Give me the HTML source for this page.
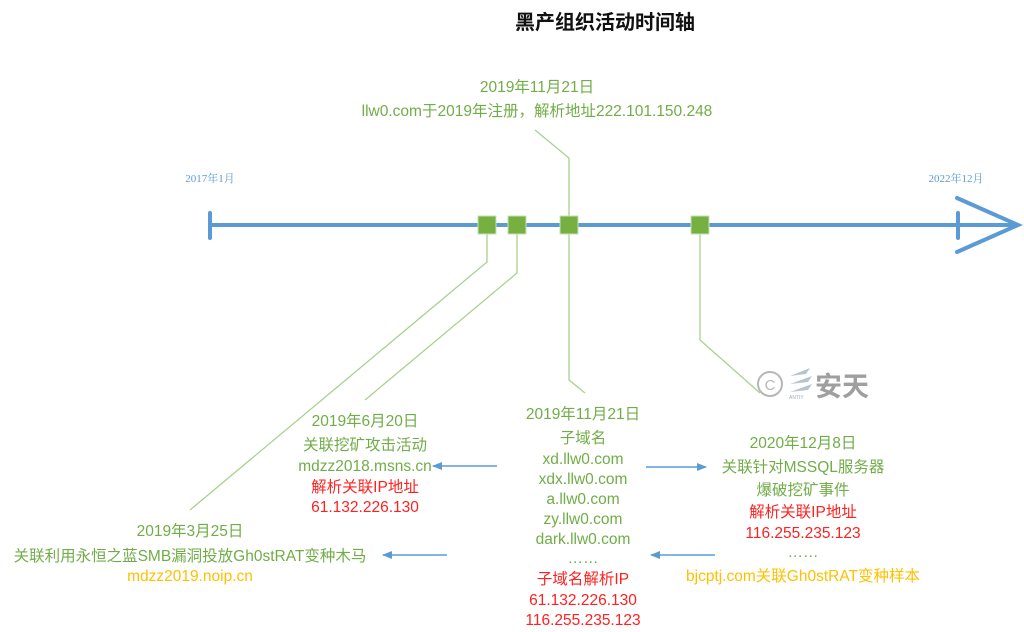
<!DOCTYPE html>
<html><head><meta charset="utf-8"><style>
html,body{margin:0;padding:0;background:#fff;}
svg{display:block;}
text{font-family:"Liberation Sans","Noto Sans CJK SC",sans-serif;}
.g{fill:#70ad47;font-size:15.5px;}
.r{fill:#ff2020;font-size:15.5px;}
.y{fill:#ffc000;font-size:15.5px;}
.b{fill:#5b9bd5;font-size:11px;font-family:"Liberation Serif","Noto Serif CJK SC",serif;}
</style></head><body>
<svg width="1024" height="632" viewBox="0 0 1024 632" xmlns="http://www.w3.org/2000/svg">
<defs>
<marker id="ah" markerWidth="10" markerHeight="8" refX="9" refY="4" orient="auto" markerUnits="userSpaceOnUse">
<path d="M0,0 L10,4 L0,8 Z" fill="#5b9bd5"/></marker>
</defs>
<text x="605" y="29" text-anchor="middle" font-size="20" font-weight="bold" fill="#111">黑产组织活动时间轴</text>

<text class="g" x="537" y="92" text-anchor="middle">2019年11月21日</text>
<text class="g" x="537" y="116" text-anchor="middle">llw0.com于2019年注册，解析地址222.101.150.248</text>

<text class="b" x="210" y="182" text-anchor="middle">2017年1月</text>
<text class="b" x="956" y="182" text-anchor="middle">2022年12月</text>

<g stroke="#a9d18e" stroke-width="1.3" fill="none">
<polyline points="535,130 569,158 569,380 585,393"/>
<polyline points="487,234 487,262 190,510"/>
<polyline points="517,234 517,273 365,400"/>
<polyline points="700,234 700,340 760,393"/>
</g>

<g stroke="#5b9bd5" stroke-width="4" fill="none" stroke-linecap="round">
<line x1="210" y1="225" x2="1016" y2="225"/>
<line x1="210" y1="213" x2="210" y2="238"/>
<line x1="958" y1="213" x2="958" y2="238"/>
<polyline points="957,198 1018,225 957,252"/>
</g>
<g fill="#76b041" stroke="#c5e0b4" stroke-width="1">
<rect x="478" y="216" width="18" height="18"/>
<rect x="508" y="216" width="18" height="18"/>
<rect x="560" y="216" width="18" height="18"/>
<rect x="691" y="216" width="18" height="18"/>
</g>

<g opacity="0.7">
<circle cx="770" cy="384" r="12" fill="none" stroke="#999" stroke-width="2"/>
<text x="770" y="390" text-anchor="middle" font-size="15" fill="#999">C</text>
<path d="M790,376 L810,368 L806,374 Z M790,384 L812,376 L808,382 Z M790,392 L812,384 L808,390 Z" fill="#9ab"/>
<text x="789" y="399" font-size="5" fill="#888">ANTIY</text>
<text x="815" y="396" font-size="27" font-weight="bold" fill="#777">安天</text>
</g>

<g text-anchor="middle">
<text class="g" x="583" y="419">2019年11月21日</text>
<text class="g" x="583" y="443">子域名</text>
<text class="g" x="583" y="464">xd.llw0.com</text>
<text class="g" x="583" y="484">xdx.llw0.com</text>
<text class="g" x="583" y="504">a.llw0.com</text>
<text class="g" x="583" y="524">zy.llw0.com</text>
<text class="g" x="583" y="544">dark.llw0.com</text>
<text class="g" x="583" y="563">……</text>
<text class="r" x="583" y="584">子域名解析IP</text>
<text class="r" x="583" y="605">61.132.226.130</text>
<text class="r" x="583" y="625">116.255.235.123</text>

<text class="g" x="803" y="448">2020年12月8日</text>
<text class="g" x="803" y="472">关联针对MSSQL服务器</text>
<text class="g" x="803" y="495">爆破挖矿事件</text>
<text class="r" x="803" y="517">解析关联IP地址</text>
<text class="r" x="803" y="538">116.255.235.123</text>
<text class="g" x="803" y="557">……</text>
<text class="y" x="803" y="581">bjcptj.com关联Gh0stRAT变种样本</text>

<text class="g" x="365" y="426">2019年6月20日</text>
<text class="g" x="365" y="450">关联挖矿攻击活动</text>
<text class="g" x="365" y="471">mdzz2018.msns.cn</text>
<text class="r" x="365" y="492">解析关联IP地址</text>
<text class="r" x="365" y="512">61.132.226.130</text>

<text class="g" x="190" y="536">2019年3月25日</text>
<text class="g" x="190" y="561">关联利用永恒之蓝SMB漏洞投放Gh0stRAT变种木马</text>
<text class="y" x="190" y="581">mdzz2019.noip.cn</text>
</g>

<g stroke="#5b9bd5" stroke-width="1.5" marker-end="url(#ah)">
<line x1="497" y1="466" x2="433" y2="466"/>
<line x1="646" y1="467" x2="706" y2="467"/>
<line x1="447" y1="555" x2="383" y2="555"/>
<line x1="715" y1="555" x2="651" y2="555"/>
</g>
</svg>
</body></html>
